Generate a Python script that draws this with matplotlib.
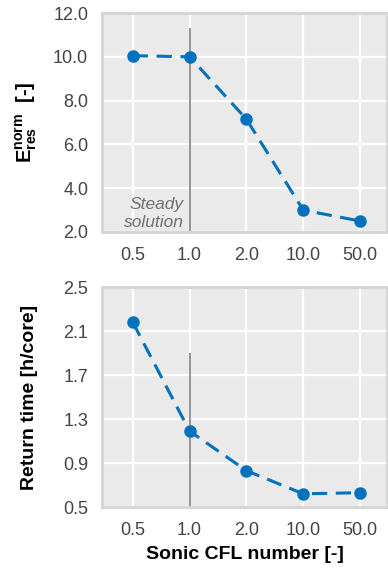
import matplotlib
matplotlib.use("Agg")
import matplotlib.pyplot as plt

plt.rcParams['font.family'] = ['Liberation Sans', 'DejaVu Sans']
plt.rcParams['mathtext.fontset'] = 'custom'
plt.rcParams['mathtext.rm'] = 'Liberation Sans'
plt.rcParams['mathtext.bf'] = 'Liberation Sans:bold'
plt.rcParams['mathtext.it'] = 'Liberation Sans:italic'

# Data
cfl_labels = ['0.5', '1.0', '2.0', '10.0', '50.0']
error_norm = [10.05, 10.0, 7.15, 3.0, 2.5]
return_time = [2.18, 1.19, 0.83, 0.62, 0.63]
error_ticks = [2.0, 4.0, 6.0, 8.0, 10.0, 12.0]
time_ticks = [0.5, 0.9, 1.3, 1.7, 2.1, 2.5]
steady_index = 1

line_color = '#0072BD'
bg_color = '#EAEAEA'
spine_color = '#D6D6D6'
tick_color = '#444444'

fig = plt.figure(figsize=(3.88, 5.70), dpi=100)
ax1 = fig.add_axes([0.263, 1 - 232 / 570, 0.734, (232 - 13) / 570])
ax2 = fig.add_axes([0.263, 1 - 507 / 570, 0.734, (507 - 287) / 570])

xs = list(range(len(cfl_labels)))

for ax, vals, ticks in [(ax1, error_norm, error_ticks), (ax2, return_time, time_ticks)]:
    ax.set_facecolor(bg_color)
    ax.set_axisbelow(True)
    ax.grid(True, color='white', linewidth=1.6)
    ax.plot(xs, vals, color=line_color, linewidth=2.2, dashes=(5, 2.8),
            marker='o', markersize=8, zorder=3)
    ax.set_xlim(-0.54, 4.47)
    ax.set_ylim(ticks[0], ticks[-1])
    ax.set_yticks(ticks)
    ax.set_yticklabels([f'{t:.1f}' for t in ticks])
    ax.set_xticks(xs)
    ax.set_xticklabels(cfl_labels)
    ax.tick_params(length=0, labelsize=13, colors=tick_color)
    ax.tick_params(axis='y', pad=10)
    ax.tick_params(axis='x', pad=11)
    for s in ax.spines.values():
        s.set_color(spine_color)
        s.set_linewidth(2.2)

ax1.vlines(steady_index, 2.0, 11.3, color='#777777', linewidth=1.1, zorder=2)
ax2.vlines(steady_index, 0.5, 1.9, color='#777777', linewidth=1.1, zorder=2)

ax1.text(steady_index - 0.1, 2.1, 'Steady\nsolution', ha='right', va='bottom',
         style='italic', color='#707070', fontsize=12.5, linespacing=1.2)

ax1.set_ylabel(r'$\mathbf{E}_{\mathbf{res}}^{\mathbf{norm}}$  [-]', fontsize=14.5,
               fontweight='bold')
ax1.yaxis.set_label_coords(-0.265, 0.5)
ax2.set_ylabel('Return time [h/core]', fontsize=14, fontweight='bold')
ax2.yaxis.set_label_coords(-0.256, 0.5)
ax2.set_xlabel('Sonic CFL number [-]', fontsize=14, fontweight='bold')
ax2.xaxis.set_label_coords(0.5, -0.218)
ax2.xaxis.label.set_va('center')
ax1.yaxis.label.set_va('center')
ax2.yaxis.label.set_va('center')

fig.savefig('out.png', dpi=100)
